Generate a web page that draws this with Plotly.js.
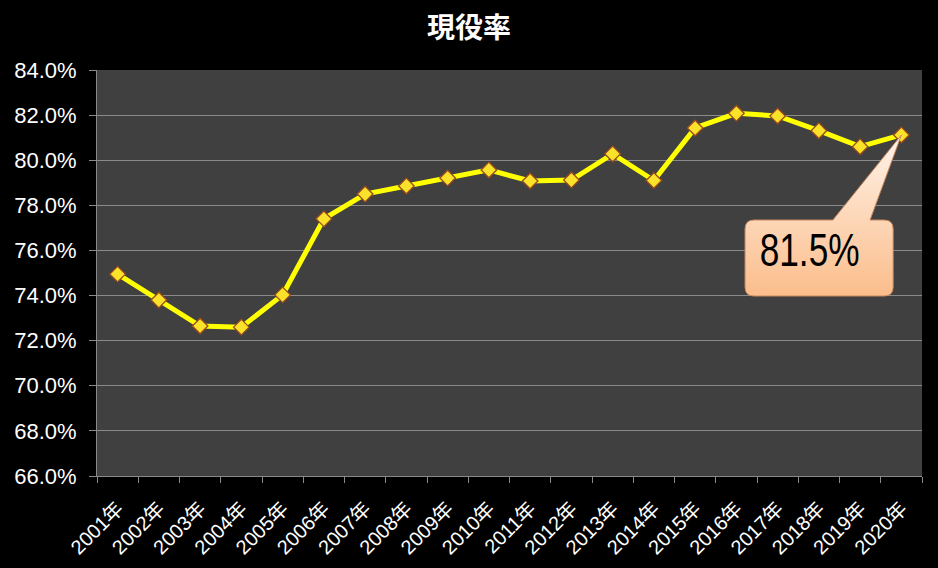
<!DOCTYPE html>
<html>
<head>
<meta charset="utf-8">
<script src="https://cdn.plot.ly/plotly-3.0.1.min.js"></script>
<style>html,body{margin:0;padding:0;background:#000;}#chart{width:938px;height:568px;}</style>
</head>
<body>
<div id="chart"></div>
<script>
const years = ["2001年","2002年","2003年","2004年","2005年","2006年","2007年","2008年","2009年","2010年",
               "2011年","2012年","2013年","2014年","2015年","2016年","2017年","2018年","2019年","2020年"];
const rates = [74.95, 73.8, 72.65, 72.6, 74.03, 77.4, 78.5, 78.86, 79.21, 79.57,
               79.08, 79.12, 80.28, 79.1, 81.43, 82.08, 81.96, 81.31, 80.6, 81.12];
const yTicks = [66,68,70,72,74,76,78,80,82,84];
const calloutText = "81.5%";

const yMin = 66, yMax = 84;
const n = years.length;
// callout geometry (paper coords)
const bx0 = 0.7855, bx1 = 0.965, byTop = 0.6305, byBot = 0.4433;
const rx = 9/825, ry = 9/406;
const wx0 = 0.892, wx1 = 0.937;
const tipX = (n - 1 + 0.5) / n;
const tipY = (rates[n-1] - yMin) / (yMax - yMin);
const path =
  `M ${bx0+rx},${byTop} L ${wx0},${byTop} L ${tipX},${tipY} L ${wx1},${byTop} L ${bx1-rx},${byTop} ` +
  `Q ${bx1},${byTop} ${bx1},${byTop-ry} L ${bx1},${byBot+ry} Q ${bx1},${byBot} ${bx1-rx},${byBot} ` +
  `L ${bx0+rx},${byBot} Q ${bx0},${byBot} ${bx0},${byBot+ry} L ${bx0},${byTop-ry} Q ${bx0},${byTop} ${bx0+rx},${byTop} Z`;

const trace = {
  x: years, y: rates, type: 'scatter', mode: 'lines+markers',
  line: {color: '#ffff00', width: 5},
  marker: {symbol: 'diamond', size: 12, color: '#fbe22a', line: {color: '#9a4a1c', width: 1.3}},
  hoverinfo: 'skip'
};

const layout = {
  width: 938, height: 568,
  paper_bgcolor: '#000000', plot_bgcolor: '#404040',
  margin: {l: 97, r: 16, t: 70, b: 92, pad: 0},
  showlegend: false,
  title: {text: '<b>現役率</b>', x: 0.5, xref: 'container', xanchor: 'center', y: 1 - 28/568, yref: 'container', yanchor: 'middle',
          font: {family: '"Noto Sans CJK JP", sans-serif', size: 28, color: '#ffffff'}},
  font: {family: '"Liberation Sans", Arial, sans-serif', color: '#ffffff'},
  xaxis: {
    type: 'category', range: [-0.5, n - 0.5], tickson: 'boundaries',
    ticks: 'outside', ticklen: 6, tickcolor: '#8a8a8a', tickwidth: 1,
    showline: true, linecolor: '#8a8a8a', linewidth: 1,
    showgrid: false, zeroline: false, ticklabelstandoff: 12,
    tickangle: -45, tickfont: {family: '"Liberation Sans", "Noto Sans CJK JP", sans-serif', size: 20, color: '#ffffff'}
  },
  yaxis: {
    range: [yMin, yMax], tickvals: yTicks, ticktext: yTicks.map(v => v.toFixed(1) + '%'),
    ticks: 'outside', ticklen: 7, tickcolor: '#8a8a8a', tickwidth: 1,
    showline: true, linecolor: '#8a8a8a', linewidth: 1, ticklabelstandoff: 8,
    showgrid: true, gridcolor: '#8a8a8a', gridwidth: 1, zeroline: false,
    tickfont: {family: '"Liberation Sans", Arial, sans-serif', size: 22, color: '#ffffff'}
  },
  shapes: [{
    type: 'path', xref: 'paper', yref: 'paper', path: path,
    fillcolor: '#fcc79b', line: {color: '#c98a5e', width: 1}, layer: 'above'
  }],
  annotations: [{
    xref: 'paper', yref: 'paper', x: (bx0 + bx1) / 2 - 0.012, y: (byTop + byBot) / 2 + 0.02,
    xanchor: 'center', yanchor: 'middle',
    text: calloutText, showarrow: false,
    font: {family: '"Liberation Sans", sans-serif', size: 47, color: '#000000'}
  }]
};

Plotly.newPlot('chart', [trace], layout, {staticPlot: true, displayModeBar: false}).then(gd => {
  const svg = gd.querySelector('svg.main-svg');
  const ns = 'http://www.w3.org/2000/svg';
  let defs = svg.querySelector('defs');
  if (!defs) { defs = document.createElementNS(ns, 'defs'); svg.insertBefore(defs, svg.firstChild); }
  const grad = document.createElementNS(ns, 'linearGradient');
  grad.setAttribute('id', 'calloutGrad');
  grad.setAttribute('x1', '0'); grad.setAttribute('y1', '0');
  grad.setAttribute('x2', '0'); grad.setAttribute('y2', '1');
  [['0', '#fff3ea'], ['0.5', '#fdd8ba'], ['1', '#fbbd8b']].forEach(([o, c]) => {
    const s = document.createElementNS(ns, 'stop');
    s.setAttribute('offset', o); s.setAttribute('stop-color', c);
    grad.appendChild(s);
  });
  defs.appendChild(grad);
  gd.querySelectorAll('.shapelayer path').forEach(p => { p.style.fill = 'url(#calloutGrad)'; p.style.fillOpacity = 1; });
  // narrow the callout text (original uses a condensed face)
  const t = gd.querySelector('.annotation-text');
  if (t) {
    const bb = t.getBBox();
    const cx = bb.x + bb.width / 2, cy = bb.y + bb.height / 2;
    const prev = t.getAttribute('transform') || '';
    t.setAttribute('transform', `${prev} translate(${cx},${cy}) scale(0.75,1) translate(${-cx},${-cy})`);
  }
});
</script>
</body>
</html>
